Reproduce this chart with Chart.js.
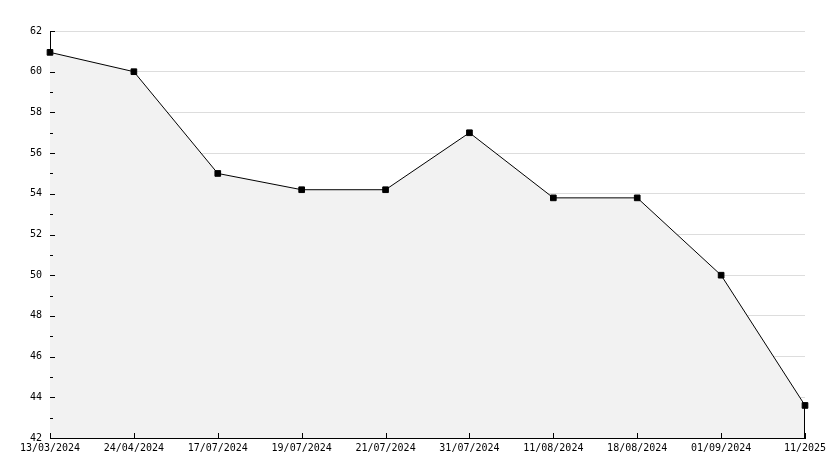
<!DOCTYPE html>
<html><head><meta charset="utf-8">
<script src="https://cdn.jsdelivr.net/npm/chart.js@4"></script>
<style>html,body{margin:0;padding:0;background:#fff}#w{width:834px;height:468px}</style>
</head><body><div id="w"><canvas id="c"></canvas></div>
<script>
const categories = ["13/03/2024","24/04/2024","17/07/2024","19/07/2024","21/07/2024","31/07/2024","11/08/2024","18/08/2024","01/09/2024","11/2025"];
const values = [60.95, 60, 55, 54.2, 54.2, 57, 53.8, 53.8, 50, 43.6];
const yMin = 42, yMax = 62;

const tickPlugin = {
  id: 'inTicks',
  afterDatasetsDraw(chart) {
    const ctx = chart.ctx, x = chart.scales.x, y = chart.scales.y, a = chart.chartArea;
    ctx.save();
    ctx.strokeStyle = '#000'; ctx.lineWidth = 1;
    ctx.beginPath();
    for (let v = yMin; v <= yMax; v++) {
      const py = Math.round(y.getPixelForValue(v)) + 0.5;
      const len = (v % 2 === 0) ? 5 : 3;
      ctx.moveTo(a.left, py); ctx.lineTo(a.left + len, py);
    }
    for (let i = 0; i < categories.length; i++) {
      const px = Math.round(x.getPixelForValue(i)) + 0.5;
      ctx.moveTo(px, a.bottom); ctx.lineTo(px, a.bottom - 5);
    }
    const last = categories.length - 1;
    const lx = Math.round(x.getPixelForValue(last)) - 0.5;
    ctx.moveTo(lx, y.getPixelForValue(values[last]));
    ctx.lineTo(lx, a.bottom);
    ctx.stroke();
    ctx.restore();
  }
};

new Chart(document.getElementById('c'), {
  type: 'line',
  data: { labels: categories, datasets: [{
    data: values, borderColor: '#000', borderWidth: 1, backgroundColor: '#f2f2f2',
    fill: 'start', tension: 0, pointStyle: 'rect', pointRadius: 4,
    pointBackgroundColor: '#000', pointBorderColor: '#000', pointBorderWidth: 1
  }]},
  options: {
    responsive: true, maintainAspectRatio: false, animation: false,
    layout: { padding: { top: 31, right: 29, left: 0, bottom: 0 } },
    plugins: { legend: { display: false }, tooltip: { enabled: false } },
    scales: {
      x: {
        offset: false,
        afterFit(s) { s.height = 30; },
        grid: { display: false, drawTicks: false },
        border: { display: true, color: '#000', width: 1 },
        ticks: { color: '#000', padding: 4, maxRotation: 0, autoSkip: false,
          font: { family: 'DejaVu Sans Mono', size: 10 } }
      },
      y: {
        min: yMin, max: yMax,
        afterFit(s) { s.width = 50; },
        grid: { drawTicks: false, color: (c) => (c.tick && c.tick.value % 2 === 0) ? '#dddddd' : 'rgba(0,0,0,0)' },
        border: { display: true, color: '#000', width: 1 },
        ticks: { stepSize: 1, color: '#000', padding: 8, autoSkip: false,
          callback: (v) => (v % 2 === 0 ? String(v) : ''),
          font: { family: 'DejaVu Sans Mono', size: 10 } }
      }
    }
  },
  plugins: [tickPlugin]
});
</script></body></html>
